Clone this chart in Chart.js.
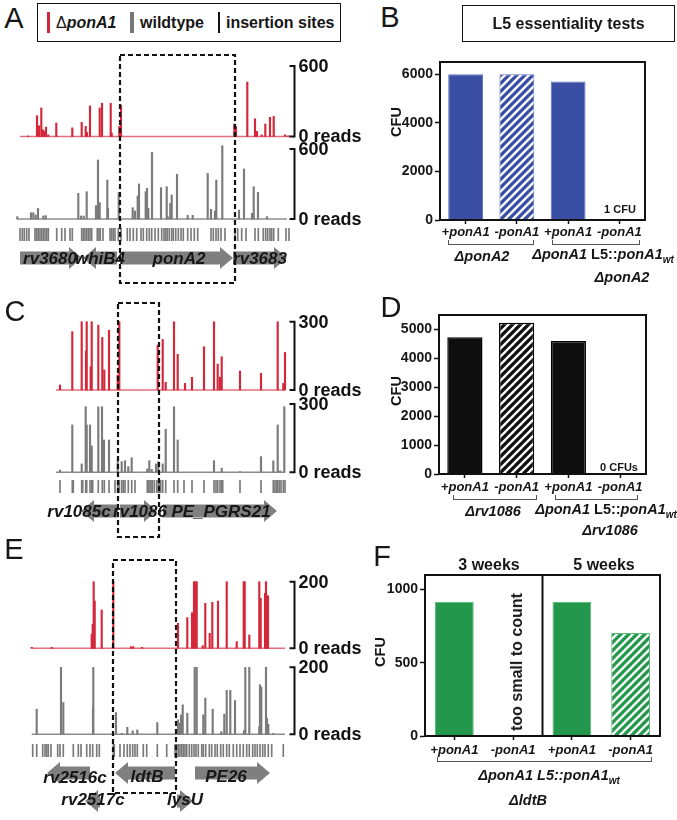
<!DOCTYPE html>
<html><head><meta charset="utf-8">
<script src="https://cdn.jsdelivr.net/npm/chart.js"></script>
<style>
html,body{margin:0;padding:0;background:#fff;}
#wrap{position:relative;width:677px;height:820px;overflow:hidden;font-family:"Liberation Sans",Arial,Helvetica,sans-serif;color:#161616;background:#fff;}
canvas{position:absolute;}
.t{position:absolute;white-space:nowrap;transform:translate(-50%,-50%);font-weight:bold;line-height:1;}
.sub{font-size:10px;vertical-align:-4px;}
.box{position:absolute;border:1.5px solid #111;box-sizing:border-box;}
.brk{position:absolute;border:1.3px solid #555;border-top:none;box-sizing:border-box;height:5px;}
</style></head><body><div id="wrap"></div>
<script>
// ================= DATA =================
// Panel A (positions in arbitrary genome units along the track, values in reads)
const aRedPos  = [13,22,24,26.3,28,29.3,31,33.3,41.3,57.3,66.7,70.7,72,75,84.7,87,95.7,96.7,104.3,106,219.3,221,232.3,240,242,246.7,250.3,255,258.7,270,273.3];
const aRedVal  = [5,177,91,243,57,43,80,14,114,74,120,86,34,260,243,283,283,29,86,266,106,86,463,151,43,14,106,163,171,14,6];
const aGrayPos = [2.3,16,18.3,20.7,23,28.3,30.7,63.3,66,68.7,71.7,81,83,84.7,92.3,93,103.7,117.7,120,122.7,124,130.7,132,133.3,137,146,151.7,152.7,155.3,156.7,162,172.7,177.7,192.7,196,200,201.3,207.3,224,229,237,238.7,243,252];
const aGrayVal = [20,54,54,34,91,26,29,220,26,26,234,114,506,140,334,91,226,97,69,197,300,234,263,91,571,269,277,20,134,206,383,31,31,391,83,69,334,628,77,429,49,277,229,20];
const aSites   = [5,7.3,9.3,11.7,14,20,21.7,23.3,25,26.7,28.3,30,31.7,33.3,41.7,46.7,50,55,57.3,66.7,68.3,70,71.7,73.3,75,76.7,82.3,84,85.3,88,95,96.7,98.3,100,103.3,106,112.3,115,118.3,121.7,126,128.3,131.7,134.3,136.7,140,143.3,146.7,149,150.7,152.3,154.3,156.7,158.3,160.7,163.3,166,168.3,172.7,176,179.3,182.7,196,198.3,201,203.3,206,210,220,222.7,226.7,231,240,243.3,248.3,250.7,252.7,255,256.7,258.7,263.3,271,274];
const aGenes   = ['rv3680','whiB4','ponA2','rv3683'];
const aStart   = [5,68,107,218];
const aEnd     = [67,102,218,272];
const aStrand  = [1,-1,1,1];
const aLane    = [0,0,0,0];
const aScaleMax = 600;

// Panel C
const cRedPos  = [45,57.3,66.7,71,71.7,75.7,76.7,83.3,87.3,89.3,94,102.7,104.3,142.7,147.7,150.7,159,162.7,170,177,189,199,202.7,205,206.7,225,246,262.7,268.3,270];
const cRedVal  = [22,256,300,171,300,102,300,285,231,88,263,66,300,197,222,34,300,157,29,56,190,300,114,56,146,83,73,300,29,165];
const cGrayPos = [45,57.3,66.7,70.7,71.7,75,76.7,83.3,87,89,94,102.7,106.7,110,113.3,116.7,132.3,134.3,136.7,141,143.3,147.7,150.7,159,162.7,199,206.7,225,246,258.3,262.7,265,269.3];
const cGrayVal = [10,208,37,288,208,208,116,288,288,142,142,51,47,51,25,64,15,51,13,37,47,37,189,288,142,51,18,3,69,50,208,6,288];
const cSites   = [45,57.3,58.3,66.7,67.7,70.7,71.7,75,76.7,77.7,83.3,87.3,89.3,94,100,102.7,104.3,106.7,108.3,110,113.3,116.7,120,132.3,133.3,135,136,137.3,139.3,141.7,143.3,144.3,145.7,147.7,150.7,159,162.7,169,177,189,199,201,202.7,205,206.7,207.7,225,246,258.3,260,261.7,262.7,264.3,266,268.3,270];
const cGenes   = ['rv1085c','rv1086','PE_PGRS21'];
const cStart   = [66,105,148];
const cEnd     = [103,142,262];
const cStrand  = [-1,1,1];
const cLane    = [0,0,0];
const cScaleMax = 300;

// Panel E
const eRedPos  = [16.7,36.7,76.7,77.7,78.7,79.7,86.7,98.3,116,118.3,127,163,172.3,177,179,180.3,181.7,187.7,190.3,194.7,197.3,203,211.7,221.7,228.7,229.7,234.3,244.3,245.7,250,251,252,253];
const eRedVal  = [3,3,42,72,200,142,115,200,5,5,3,75,92,107,200,200,200,8,135,45,138,142,200,20,200,200,40,200,150,165,200,15,158];
const eGrayPos = [21.7,46,48.3,78,78.3,101,106.7,112.3,117.7,122.3,142.3,163,164.3,166,167.7,172.3,179.7,181.7,188.3,190.3,197.7,206.3,209.3,211.7,215.3,220,229,230.3,234.3,244.3,245,246.3,251,252,253.3,258.3];
const eGrayVal = [75,200,95,78,200,65,3,21,10,13,35,43,33,58,88,63,200,200,58,108,75,8,60,131,131,101,11,200,200,23,148,141,200,48,30,3];
const eSites   = [17.7,21.7,27.7,30,31.7,33.3,36,42.7,45,48.3,58.3,63.3,66,71.7,75,77.7,81.7,84.3,98.3,99.3,105,109,112.3,115,117.7,120,122.3,128.3,131.7,142.3,151.7,160,161.7,163.3,165,166.7,168.3,170,171.7,174.3,176.7,179,181,183.3,186.7,188.3,190.7,194.3,196.7,200,202.3,205.7,208.3,211.7,214.3,218.3,221.7,225,228.3,231.7,234.3,237.7,240,242.3,245,247.7,250,253.3,256.7,268.3];
const eGenes   = ['rv2516c','ldtB','PE26','rv2517c','lysU'];
const eStart   = [32,100,180,70,162];
const eEnd     = [75,160,255,85,178];
const eStrand  = [-1,-1,1,-1,1];
const eLane    = [0,0,0,1,1];
const eScaleMax = 200;

// CFU panels
const groupLabels = ['+ponA1','-ponA1','+ponA1','-ponA1'];
const bValues = [6000,6000,5700,1];
const bTicks  = [0,2000,4000,6000];
const dValues = [4730,5230,4600,0];
const dTicks  = [0,1000,2000,3000,4000,5000];
const fValues = [915,0,915,704];
const fTicks  = [0,500,1000];

// ================= LAYOUT / STYLE =================
const FONT = '"Liberation Sans", Arial, Helvetica, sans-serif';
const RED = '#d3283a', REDBASE = '#e2707c', GRAY = '#7b7b7b', GRAYBASE = '#8c8c8c';
const BLUE = '#3a4ea3', GREEN = '#23974b', BLACK = '#0e0e0e';
const wrap = document.getElementById('wrap');

function addCanvas(x, y, w, h) {
  const c = document.createElement('canvas');
  c.width = w; c.height = h;
  c.style.left = x + 'px'; c.style.top = y + 'px';
  c.style.width = w + 'px'; c.style.height = h + 'px';
  wrap.appendChild(c);
  return c;
}
function txt(html, cx, cy, css) {
  const d = document.createElement('div');
  d.className = 't'; d.innerHTML = html;
  d.style.left = cx + 'px'; d.style.top = cy + 'px';
  if (css) d.style.cssText += css;
  wrap.appendChild(d); return d;
}
function box(x, y, w, h) {
  const d = document.createElement('div'); d.className = 'box';
  Object.assign(d.style, {left: x + 'px', top: y + 'px', width: w + 'px', height: h + 'px'});
  wrap.appendChild(d); return d;
}
function rect(x, y, w, h, col) {
  const d = document.createElement('div');
  Object.assign(d.style, {position: 'absolute', left: x + 'px', top: y + 'px', width: w + 'px', height: h + 'px', background: col});
  wrap.appendChild(d);
}
function brk(x1, x2, y) {
  const d = document.createElement('div'); d.className = 'brk';
  Object.assign(d.style, {left: x1 + 'px', top: (y - 5) + 'px', width: (x2 - x1) + 'px'});
  wrap.appendChild(d);
}
function hatch(bg, fg) {
  const s = 8, c = document.createElement('canvas'); c.width = c.height = s;
  const x = c.getContext('2d');
  x.fillStyle = bg; x.fillRect(0, 0, s, s);
  x.strokeStyle = fg; x.lineWidth = 2.3; x.beginPath();
  x.moveTo(0, s); x.lineTo(s, 0);
  x.moveTo(-s / 2, s / 2); x.lineTo(s / 2, -s / 2);
  x.moveTo(s / 2, s * 1.5); x.lineTo(s * 1.5, s / 2);
  x.stroke();
  return x.createPattern(c, 'repeat');
}

const TRACK_LEFT = 15, TRACK_W = 280, TRACK_PADR = 80;

function trackChart(pos, val, cfg) {
  const cv = addCanvas(TRACK_LEFT, cfg.top, TRACK_W + TRACK_PADR, cfg.height);
  const k = cfg.px / cfg.scaleMax;
  const ymax = (cfg.zero - cfg.top) / k;
  const ymin = -(cfg.top + cfg.height - cfg.zero) / k;
  const deco = {
    id: 'trackDeco',
    beforeDatasetsDraw(chart) {
      const {ctx, scales: {x, y}} = chart;
      const y0 = y.getPixelForValue(0);
      ctx.save(); ctx.strokeStyle = cfg.baseColor; ctx.lineWidth = 1.5;
      ctx.beginPath(); ctx.moveTo(x.getPixelForValue(cfg.base[0]), y0); ctx.lineTo(x.getPixelForValue(cfg.base[1]), y0); ctx.stroke();
      ctx.restore();
    },
    afterDraw(chart) {
      const {ctx, scales: {x, y}} = chart;
      const bx = x.getPixelForValue(279.5);
      const yt = y.getPixelForValue(cfg.scaleMax), yb = y.getPixelForValue(0);
      ctx.save();
      ctx.strokeStyle = '#111'; ctx.lineWidth = 2;
      ctx.beginPath(); ctx.moveTo(bx - 5, yt); ctx.lineTo(bx, yt); ctx.lineTo(bx, yb); ctx.lineTo(bx - 5, yb); ctx.stroke();
      ctx.fillStyle = '#111'; ctx.font = 'bold 18px ' + FONT; ctx.textBaseline = 'middle'; ctx.textAlign = 'left';
      ctx.fillText(String(cfg.scaleMax), bx + 4, yt + 1);
      ctx.fillText('0 reads', bx + 4, yb + 1);
      ctx.restore();
    }
  };
  new Chart(cv, {
    type: 'bar',
    data: {datasets: [{data: pos.map((p, i) => ({x: p, y: val[i]})), backgroundColor: cfg.color, borderWidth: 0, barThickness: 1.5}]},
    options: {
      responsive: false, animation: false, devicePixelRatio: 1,
      layout: {padding: {left: 0, right: TRACK_PADR, top: 0, bottom: 0}},
      scales: {
        x: {type: 'linear', min: 0, max: TRACK_W, display: false, offset: false},
        y: {min: ymin, max: ymax, display: false}
      },
      plugins: {legend: {display: false}, tooltip: {enabled: false}}
    },
    plugins: [deco]
  });
}

function siteGeneChart(sites, genes, starts, ends, strands, lanes, cfg) {
  const cv = addCanvas(TRACK_LEFT, cfg.top, TRACK_W + TRACK_PADR, cfg.height);
  const deco = {
    id: 'geneDeco',
    afterDraw(chart) {
      const {ctx, scales: {x}} = chart;
      ctx.save();
      ctx.fillStyle = '#7f7f7f';
      starts.forEach((s, i) => {
        const a = x.getPixelForValue(s), b = x.getPixelForValue(ends[i]);
        const cy = cfg.laneY[lanes[i]] - cfg.top;
        const bh = 6.5, hh = 11, hl = 13;
        ctx.beginPath();
        if (strands[i] > 0) {
          ctx.moveTo(a, cy - bh); ctx.lineTo(b - hl, cy - bh); ctx.lineTo(b - hl, cy - hh); ctx.lineTo(b, cy);
          ctx.lineTo(b - hl, cy + hh); ctx.lineTo(b - hl, cy + bh); ctx.lineTo(a, cy + bh);
        } else {
          ctx.moveTo(b, cy - bh); ctx.lineTo(a + hl, cy - bh); ctx.lineTo(a + hl, cy - hh); ctx.lineTo(a, cy);
          ctx.lineTo(a + hl, cy + hh); ctx.lineTo(a + hl, cy + bh); ctx.lineTo(b, cy + bh);
        }
        ctx.closePath(); ctx.fill();
      });
      ctx.fillStyle = '#161616'; ctx.font = 'italic bold 17px ' + FONT;
      ctx.textAlign = 'center'; ctx.textBaseline = 'middle';
      genes.forEach((n, i) => ctx.fillText(n, x.getPixelForValue(cfg.labelX[i]), cfg.laneY[lanes[i]] - cfg.top + cfg.labelDy[i]));
      ctx.restore();
    }
  };
  new Chart(cv, {
    type: 'bar',
    data: {datasets: [{data: sites.map(p => ({x: p, y: 1})), backgroundColor: '#7a7a7a', borderWidth: 0, barThickness: 1}]},
    options: {
      responsive: false, animation: false, devicePixelRatio: 1,
      layout: {padding: {left: 0, right: TRACK_PADR, top: cfg.siteTop - cfg.top, bottom: cfg.top + cfg.height - cfg.siteBottom}},
      scales: {
        x: {type: 'linear', min: 0, max: TRACK_W, display: false, offset: false},
        y: {min: 0, max: 1, display: false}
      },
      plugins: {legend: {display: false}, tooltip: {enabled: false}}
    },
    plugins: [deco]
  });
}

function cfuChart(values, ticks, cfg) {
  const cv = addCanvas(cfg.cx, cfg.cy, cfg.cw, cfg.ch);
  const frame = {
    id: 'frame',
    afterDraw(chart) {
      const {ctx, chartArea: a, scales: {x}} = chart;
      ctx.save(); ctx.strokeStyle = '#111'; ctx.lineWidth = 2;
      ctx.strokeRect(a.left, a.top, a.right - a.left, a.bottom - a.top);
      if (cfg.divider) {
        const dx = x.getPixelForValue(1.5);
        ctx.beginPath(); ctx.moveTo(dx, a.top); ctx.lineTo(dx, a.bottom); ctx.stroke();
      }
      ctx.restore();
    }
  };
  new Chart(cv, {
    type: 'bar',
    data: {labels: groupLabels, datasets: [{data: values, backgroundColor: cfg.bg, borderColor: cfg.border, borderWidth: cfg.bw, barPercentage: cfg.bp, categoryPercentage: 1}]},
    options: {
      responsive: false, animation: false, devicePixelRatio: 1,
      layout: {padding: {left: 0, bottom: 0, top: cfg.pt - cfg.cy, right: cfg.cx + cfg.cw - cfg.pr}},
      scales: {
        x: {
          grid: {display: true, drawOnChartArea: false, offset: false, tickLength: 4, color: '#111', tickColor: '#111', tickWidth: 1.5},
          border: {display: false},
          ticks: {font: {family: FONT, size: 13, weight: 'bold', style: 'italic'}, color: '#161616', padding: cfg.xpad, maxRotation: 0, autoSkip: false},
          afterFit(s) { s.height = cfg.cy + cfg.ch - cfg.pb; }
        },
        y: {
          min: 0, max: cfg.ymax,
          grid: {display: true, drawOnChartArea: false, tickLength: 5, color: '#111', tickColor: '#111', tickWidth: 1.5},
          border: {display: false},
          ticks: {font: {family: FONT, size: 14, weight: 'bold'}, color: '#161616', padding: 2, callback: v => String(v)},
          afterBuildTicks(s) { s.ticks = ticks.map(v => ({value: v})); },
          afterFit(s) { s.width = cfg.pl - cfg.cx; }
        }
      },
      plugins: {legend: {display: false}, tooltip: {enabled: false}}
    },
    plugins: [frame]
  });
}

// ---------- Panel A ----------
trackChart(aRedPos, aRedVal, {top: 50, height: 92, zero: 136.5, px: 70.5, scaleMax: aScaleMax, color: RED, baseColor: REDBASE, base: [5, 275]});
trackChart(aGrayPos, aGrayVal, {top: 142, height: 83, zero: 219, px: 70, scaleMax: aScaleMax, color: GRAY, baseColor: GRAYBASE, base: [2, 272]});
siteGeneChart(aSites, aGenes, aStart, aEnd, aStrand, aLane, {top: 226, height: 48, siteTop: 228, siteBottom: 241, laneY: [258], labelX: [35, 85, 164, 245], labelDy: [1, 1, 1, 1]});

// ---------- Panel C ----------
trackChart(cRedPos, cRedVal, {top: 312, height: 84, zero: 390, px: 68.3, scaleMax: cScaleMax, color: RED, baseColor: REDBASE, base: [41, 270]});
trackChart(cGrayPos, cGrayVal, {top: 396, height: 82, zero: 472.3, px: 68.3, scaleMax: cScaleMax, color: GRAY, baseColor: GRAYBASE, base: [41, 270]});
siteGeneChart(cSites, cGenes, cStart, cEnd, cStrand, cLane, {top: 478, height: 48, siteTop: 480, siteBottom: 493, laneY: [511], labelX: [64, 125, 206], labelDy: [1, 1, 1]});

// ---------- Panel E ----------
trackChart(eRedPos, eRedVal, {top: 572, height: 82, zero: 648.3, px: 66.6, scaleMax: eScaleMax, color: RED, baseColor: REDBASE, base: [16.7, 270]});
trackChart(eGrayPos, eGrayVal, {top: 654, height: 88, zero: 734.3, px: 67, scaleMax: eScaleMax, color: GRAY, baseColor: GRAYBASE, base: [16.7, 270]});
siteGeneChart(eSites, eGenes, eStart, eEnd, eStrand, eLane, {top: 742, height: 78, siteTop: 744, siteBottom: 757, laneY: [773, 801], labelX: [60, 132, 211, 78, 170], labelDy: [5, 4, 4, -1, -1]});

// ---------- Panel B ----------
cfuChart(bValues, bTicks, {cx: 370, cy: 50, cw: 307, ch: 200, pl: 440, pt: 62, pr: 645, pb: 220, ymax: 6500, xpad: 1,
  bg: [BLUE, hatch(BLUE, '#ffffff'), BLUE, BLUE], border: '#6071c4', bw: 1, bp: 0.68});
// ---------- Panel D ----------
cfuChart(dValues, dTicks, {cx: 370, cy: 303, cw: 307, ch: 201, pl: 439, pt: 315, pr: 646, pb: 474, ymax: 5500, xpad: 2,
  bg: [BLACK, hatch(BLACK, '#ffffff'), BLACK, BLACK], border: '#000', bw: 1.5, bp: 0.68});
// ---------- Panel F ----------
cfuChart(fValues, fTicks, {cx: 360, cy: 563, cw: 317, ch: 203, pl: 425, pt: 575, pr: 660, pb: 736, ymax: 1100, xpad: 3,
  bg: [GREEN, GREEN, GREEN, hatch(GREEN, '#ffffff')], border: '#5cbf7b', bw: 1, bp: 0.66, divider: true});

// ---------- text & annotations ----------
const L = 'font-weight:normal;font-size:29px;';
txt('A', 14, 18, L); txt('B', 390, 17, L); txt('C', 15, 311, L);
txt('D', 391, 307, L); txt('E', 14, 549, L); txt('F', 382, 556, L);

// legend (panel A)
box(37, 3, 304, 39);
rect(47, 12, 3, 21, RED);
txt('<span style="font-weight:normal">Δ</span><i>ponA1</i>', 56, 23, 'transform:translate(0,-50%);font-size:16px;');
rect(130, 12, 4, 21, '#777');
txt('wildtype', 140, 23, 'transform:translate(0,-50%);font-size:16px;');
rect(218, 12, 1.5, 21, '#111');
txt('insertion sites', 226, 23, 'transform:translate(0,-50%);font-size:16px;');

// panel B title
box(462, 5, 213, 37);
txt('L5 essentiality tests', 568.5, 23.5, 'font-size:16px;');

// y-axis titles
const R = 'transform:translate(-50%,-50%) rotate(-90deg);font-size:14.5px;';
txt('CFU', 396, 122, R); txt('CFU', 396, 391, R); txt('CFU', 380, 652, R);

// B groups
brk(448, 534, 245); brk(552, 640, 245);
txt('<i>ΔponA2</i>', 482, 256, 'font-size:14.5px;');
txt('<i>ΔponA1</i> L5::<i>ponA1<span class="sub">wt</span></i>', 603, 256, 'font-size:14.5px;');
txt('<i>ΔponA2</i>', 622, 277, 'font-size:14.5px;');
txt('1 CFU', 620, 209, 'font-size:11px;');

// D groups
brk(453, 537, 500); brk(555, 638, 500);
txt('<i>Δrv1086</i>', 493, 510.5, 'font-size:14.5px;');
txt('<i>ΔponA1</i> L5::<i>ponA1<span class="sub">wt</span></i>', 606, 510.5, 'font-size:14.5px;');
txt('<i>Δrv1086</i>', 610, 530, 'font-size:14.5px;');
txt('0 CFUs', 619, 467, 'font-size:11px;');

// F
txt('3 weeks', 489, 565, 'font-size:16px;');
txt('5 weeks', 604, 565, 'font-size:16px;');
txt('too small to count', 517, 662, 'transform:translate(-50%,-50%) rotate(-90deg);font-size:16px;');
brk(437, 652, 762);
txt('<i>ΔponA1 L5::ponA1<span class="sub">wt</span></i>', 549, 777, 'font-size:14.5px;');
txt('<i>ΔldtB</i>', 528, 800, 'font-size:14.5px;');

// dashed highlight boxes
const svgNS = 'http://www.w3.org/2000/svg';
const svg = document.createElementNS(svgNS, 'svg');
svg.setAttribute('width', 677); svg.setAttribute('height', 820);
svg.style.cssText = 'position:absolute;left:0;top:0;pointer-events:none;';
[[120, 55, 235, 283], [118, 303, 159, 537], [113, 560, 176, 793]].forEach(([x1, y1, x2, y2]) => {
  const r = document.createElementNS(svgNS, 'rect');
  r.setAttribute('x', x1); r.setAttribute('y', y1); r.setAttribute('width', x2 - x1); r.setAttribute('height', y2 - y1);
  r.setAttribute('fill', 'none'); r.setAttribute('stroke', '#111'); r.setAttribute('stroke-width', 2.2);
  r.setAttribute('stroke-dasharray', '5 3');
  svg.appendChild(r);
});
wrap.appendChild(svg);
</script></body></html>
